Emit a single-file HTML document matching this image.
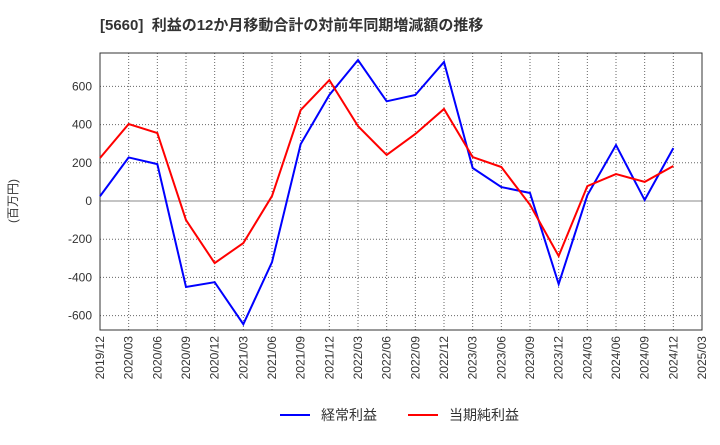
<!DOCTYPE html>
<html><head><meta charset="utf-8"><style>
body{margin:0;background:#fff;font-family:"Liberation Sans","Noto Sans CJK JP",sans-serif}
</style></head><body>
<svg id="c" width="720" height="440" xmlns="http://www.w3.org/2000/svg">
<text x="100" y="30" font-size="15" font-weight="bold" fill="#333" font-family="Liberation Sans, Noto Sans CJK JP, sans-serif" xml:space="preserve">[5660]  利益の12か月移動合計の対前年同期増減額の推移</text>
<text x="17" y="201" font-size="12" fill="#333" transform="rotate(-90 17 201)" text-anchor="middle" font-family="Liberation Sans, Noto Sans CJK JP, sans-serif">(百万円)</text>
<g id="grid"></g><g id="axes"></g><g id="series"></g>
<g>
<line x1="280" y1="415" x2="310" y2="415" stroke="#0000ff" stroke-width="2"/>
<text x="321" y="420" font-size="14" fill="#333" font-family="Liberation Sans, Noto Sans CJK JP, sans-serif">経常利益</text>
<line x1="408" y1="415" x2="438" y2="415" stroke="#ff0000" stroke-width="2"/>
<text x="449" y="420" font-size="14" fill="#333" font-family="Liberation Sans, Noto Sans CJK JP, sans-serif">当期純利益</text>
</g>
</svg>
<script>
const xLabels=["2019/12","2020/03","2020/06","2020/09","2020/12","2021/03","2021/06","2021/09","2021/12","2022/03","2022/06","2022/09","2022/12","2023/03","2023/06","2023/09","2023/12","2024/03","2024/06","2024/09","2024/12","2025/03"];
const yTicks=[-600,-400,-200,0,200,400,600];
const ordinary=[25,228,193,-450,-425,-645,-320,298,555,738,522,555,728,173,73,42,-435,30,293,5,277];
const net=[225,403,356,-100,-325,-220,26,476,633,392,241,351,482,230,178,-20,-288,78,141,100,183];
const L=100,R=702,T=53,B=330;
const xs=i=>L+(R-L)*i/(xLabels.length-1);
const ys=v=>201-v*(38.2/200);
const NS="http://www.w3.org/2000/svg";
function mk(p,t,a){const e=document.createElementNS(NS,t);for(const k in a)e.setAttribute(k,a[k]);p.appendChild(e);return e;}
const g=document.getElementById('grid'),ax=document.getElementById('axes'),s=document.getElementById('series');
xLabels.forEach((l,i)=>{const x=xs(i);
const ln=mk(g,'line',{x1:x,y1:T,x2:x,y2:B,stroke:'#666','stroke-dasharray':'1,2','stroke-width':1});


const t=mk(ax,'text',{x:x+4,y:B+6,'font-size':12,fill:'#333','text-anchor':'end',transform:`rotate(-90 ${x+4} ${B+6})`});


t.textContent=l;});
yTicks.forEach(v=>{const y=ys(v);
const ln=mk(g,'line',{x1:L,y1:y,x2:R,y2:y,stroke:v===0?'#888':'#666','stroke-dasharray':v===0?'':'1,2','stroke-width':1});


const t=mk(ax,'text',{x:L-8,y:y+4,'font-size':12,fill:'#333','text-anchor':'end'});


t.textContent=v;});
const fr=mk(ax,'rect',{x:L,y:T,width:R-L,height:B-T,fill:'none',stroke:'#333'});


function line(d,c,n){const p=mk(s,'polyline',{points:d.map((v,i)=>xs(i)+','+ys(v)).join(' '),fill:'none',stroke:c,'stroke-width':2});

}
line(ordinary,'#0000ff','ordinary-profit-line');
line(net,'#ff0000','net-profit-line');
</script>
</body></html>
